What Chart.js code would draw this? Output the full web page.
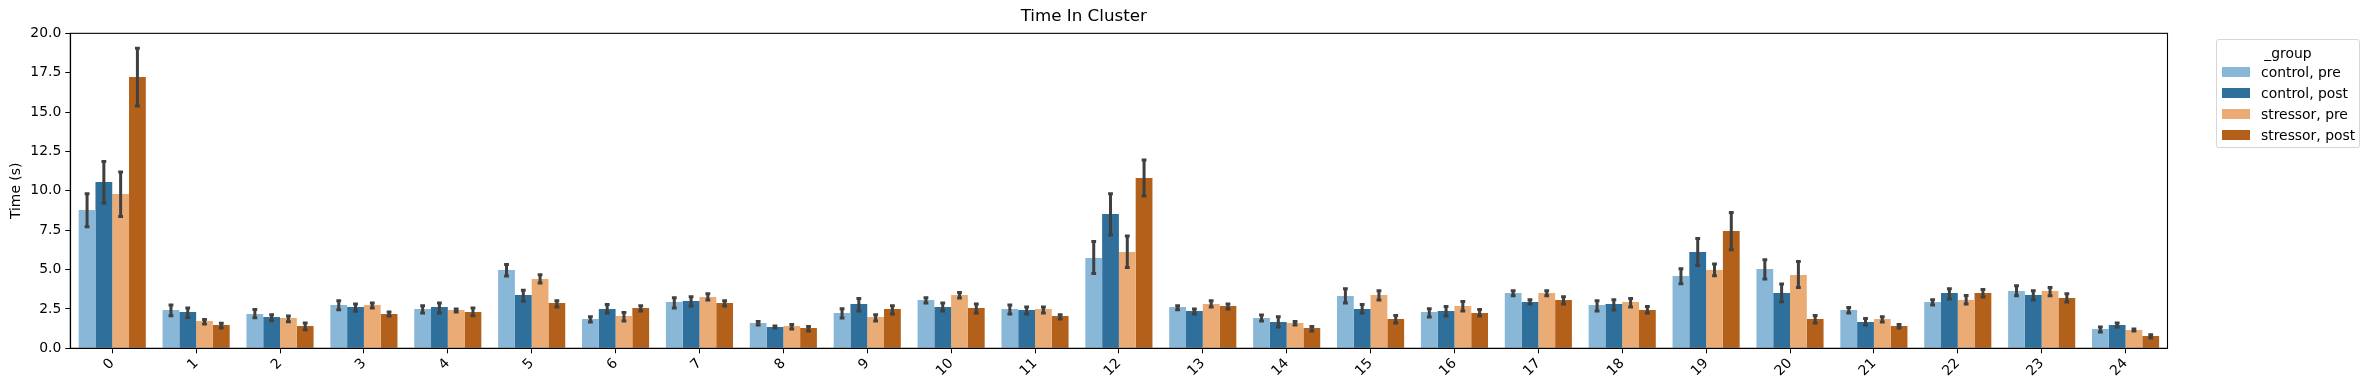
<!DOCTYPE html>
<html>
<head>
<meta charset="utf-8">
<script src="https://cdn.jsdelivr.net/npm/chart.js@4.4.1/dist/chart.umd.min.js"></script>
<style>
  html, body { margin: 0; padding: 0; background: #fff; }
  #wrap { position: relative; width: 2370px; height: 390px; }
  #legend {
    position: absolute; left: 2216px; top: 39px; width: 142px; height: 107px;
    border: 1px solid #d6d6d6; border-radius: 3px; background: #fff;
    font-family: "DejaVu Sans", sans-serif; font-size: 13.9px; color: #000;
  }
  #legend .ttl { position: absolute; left: 0; width: 100%; top: 4px; text-align: center; line-height: 18px; }
  #legend .item { position: absolute; left: 5px; height: 20px; line-height: 20px; white-space: nowrap; }
  #legend .sw { display: inline-block; width: 28px; height: 10px; vertical-align: middle; margin-right: 11px; position: relative; top: -1px; }
</style>
</head>
<body>
<div id="wrap">
  <canvas id="chart" width="2370" height="390"></canvas>
  <div id="legend"></div>
</div>
<script>
const clusters = ["0","1","2","3","4","5","6","7","8","9","10","11","12","13","14","15","16","17","18","19","20","21","22","23","24"];
const groups = ["control, pre", "control, post", "stressor, pre", "stressor, post"];
const colors = ["#88b7d8", "#2e6f9c", "#eaac74", "#b3601a"];
const yTicks = [0, 2.5, 5, 7.5, 10, 12.5, 15, 17.5, 20];

// mean time per cluster
const controlPre   = [8.78,2.43,2.18,2.75,2.50,4.97,1.86,2.94,1.61,2.24,3.07,2.50,5.74,2.62,1.93,3.32,2.31,3.51,2.75,4.59,5.04,2.43,2.94,3.64,1.23];
const controlPost  = [10.56,2.31,1.99,2.62,2.62,3.39,2.50,3.01,1.35,2.81,2.62,2.43,8.53,2.37,1.67,2.50,2.37,2.94,2.81,6.12,3.51,1.67,3.51,3.39,1.48];
const stressorPre  = [9.80,1.74,1.93,2.75,2.43,4.40,2.05,3.26,1.42,1.99,3.39,2.50,6.12,2.81,1.61,3.39,2.69,3.51,2.94,4.97,4.66,1.86,3.07,3.64,1.16];
const stressorPost = [17.23,1.48,1.42,2.18,2.31,2.88,2.56,2.88,1.29,2.50,2.56,2.05,10.81,2.69,1.29,1.86,2.24,3.07,2.43,7.45,1.86,1.42,3.51,3.20,0.78];

// error bar ends (lower / upper)
const controlPreLo   = [7.66,2.01,1.88,2.39,2.18,4.53,1.61,2.50,1.42,1.86,2.81,2.12,4.68,2.39,1.67,2.81,1.93,3.28,2.31,4.04,4.34,2.18,2.69,3.28,0.97];
const controlPreHi   = [9.88,2.81,2.52,3.09,2.77,5.38,2.07,3.28,1.76,2.58,3.28,2.81,6.84,2.77,2.18,3.85,2.58,3.72,3.09,5.12,5.69,2.65,3.15,4.04,1.42];
const controlPostLo  = [9.16,1.90,1.69,2.29,2.18,2.92,2.18,2.62,1.23,2.31,2.31,2.12,7.13,2.12,1.29,2.18,1.99,2.75,2.37,5.19,2.90,1.42,3.07,3.01,1.29];
const controlPostHi  = [11.92,2.62,2.20,2.88,2.94,3.75,2.84,3.34,1.48,3.22,2.94,2.69,9.88,2.56,2.07,2.84,2.71,3.15,3.15,7.03,4.15,1.95,3.85,3.72,1.67];
const stressorPreLo  = [8.30,1.48,1.63,2.50,2.24,4.08,1.67,3.01,1.16,1.67,3.13,2.18,5.06,2.56,1.42,3.01,2.31,3.28,2.56,4.55,3.79,1.61,2.75,3.28,1.04];
const stressorPreHi  = [11.26,1.90,2.12,2.94,2.56,4.74,2.33,3.53,1.57,2.20,3.60,2.69,7.20,3.09,1.76,3.72,3.03,3.72,3.22,5.42,5.57,2.07,3.41,3.92,1.29];
const stressorPostLo = [15.32,1.23,1.12,1.99,2.01,2.56,2.31,2.62,1.04,2.12,2.18,1.80,9.61,2.43,1.04,1.54,1.99,2.75,2.18,6.20,1.54,1.23,3.20,2.88,0.59];
const stressorPostHi = [19.11,1.65,1.67,2.37,2.62,3.09,2.77,3.09,1.44,2.77,2.88,2.20,12.02,2.88,1.44,2.14,2.52,3.34,2.71,8.68,2.14,1.57,3.79,3.53,0.93];

const means = [controlPre, controlPost, stressorPre, stressorPost];
const lows = [controlPreLo, controlPostLo, stressorPreLo, stressorPostLo];
const highs = [controlPreHi, controlPostHi, stressorPreHi, stressorPostHi];

const FONT = "'DejaVu Sans', sans-serif";

// draws the confidence interval whiskers on top of each bar
const errorBars = {
  id: "errorBars",
  afterDatasetsDraw(chart) {
    const ctx = chart.ctx;
    const y = chart.scales.y;
    ctx.save();
    ctx.strokeStyle = "#404040";
    ctx.lineWidth = 3;
    ctx.lineCap = "butt";
    chart.data.datasets.forEach((ds, i) => {
      const meta = chart.getDatasetMeta(i);
      meta.data.forEach((bar, j) => {
        const x = bar.x;
        const top = y.getPixelForValue(highs[i][j]);
        const bot = y.getPixelForValue(lows[i][j]);
        ctx.beginPath();
        ctx.moveTo(x, top);
        ctx.lineTo(x, bot);
        ctx.moveTo(x - 2.4, top + 1);
        ctx.lineTo(x + 2.4, top + 1);
        ctx.moveTo(x - 2.4, bot - 1);
        ctx.lineTo(x + 2.4, bot - 1);
        ctx.stroke();
      });
    });
    ctx.restore();
  }
};

// full box around the axes, like matplotlib spines
const frame = {
  id: "frame",
  afterDraw(chart) {
    const a = chart.chartArea;
    const ctx = chart.ctx;
    ctx.save();
    ctx.strokeStyle = "#000";
    ctx.lineWidth = 1.1;
    ctx.strokeRect(a.left, a.top, a.right - a.left, a.bottom - a.top);
    ctx.restore();
  }
};

new Chart(document.getElementById("chart").getContext("2d"), {
  type: "bar",
  data: {
    labels: clusters,
    datasets: groups.map((g, i) => ({
      label: g,
      data: means[i],
      backgroundColor: colors[i],
      borderWidth: 0,
      categoryPercentage: 0.8,
      barPercentage: 1.0,
    })),
  },
  options: {
    responsive: false,
    devicePixelRatio: 1,
    animation: false,
    layout: { padding: { left: 0, right: 202.5, top: 0, bottom: 0 } },
    plugins: {
      legend: { display: false },
      tooltip: { enabled: false },
      title: {
        display: true,
        text: "Time In Cluster",
        color: "#000",
        font: { family: FONT, size: 16.7, weight: "normal" },
        padding: { top: 7, bottom: 6.3 },
        align: "center",
      },
    },
    scales: {
      x: {
        type: "category",
        offset: true,
        afterFit: (scale) => { scale.height = 41.7; },
        grid: { display: true, drawOnChartArea: false, drawTicks: true, tickLength: 5, color: "#000", offset: false },
        border: { display: true, color: "#000", width: 1.1 },
        ticks: {
          color: "#000",
          font: { family: FONT, size: 13.9 },
          minRotation: 45,
          maxRotation: 45,
          autoSkip: false,
          padding: 2,
        },
      },
      y: {
        min: 0,
        max: 20,
        afterFit: (scale) => { scale.width = 70.3; },
        afterBuildTicks: (scale) => { scale.ticks = yTicks.map((v) => ({ value: v })); },
        grid: { display: true, drawOnChartArea: false, drawTicks: true, tickLength: 5, color: "#000" },
        border: { display: true, color: "#000", width: 1.1 },
        ticks: {
          color: "#000",
          font: { family: FONT, size: 13.9 },
          padding: 4,
          callback: (v) => Number(v).toFixed(1),
        },
        title: {
          display: true,
          text: "Time (s)",
          color: "#000",
          font: { family: FONT, size: 13.9 },
          padding: { top: 8, bottom: 0 },
        },
      },
    },
  },
  plugins: [errorBars, frame],
});

// legend box (outside the axes, upper right)
const legend = document.getElementById("legend");
legend.innerHTML = '<div class="ttl">_group</div>' + groups
  .map((g, i) => `<div class="item" style="top:${22 + i * 21}px"><span class="sw" style="background:${colors[i]}"></span>${g}</div>`)
  .join("");
</script>
</body>
</html>
